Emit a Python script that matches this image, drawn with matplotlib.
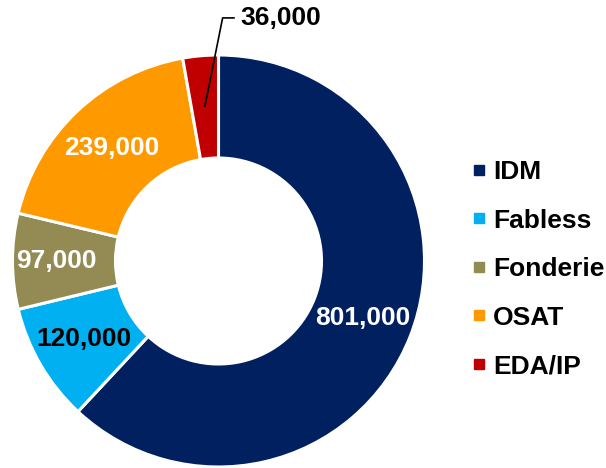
import numpy as np
import matplotlib.pyplot as plt
from matplotlib.lines import Line2D

categories = ["IDM", "Fabless", "Fonderie", "OSAT", "EDA/IP"]
values = [801000, 120000, 97000, 239000, 36000]
colors = ["#002060", "#00B0F0", "#948A54", "#FF9900", "#C00000"]
label_colors = ["white", "black", "white", "white", "black"]

plt.rcParams["font.family"] = ["Liberation Sans", "DejaVu Sans"]

fig = plt.figure(figsize=(6.06, 4.68), dpi=100)
ax = fig.add_axes([0, 0, 1, 1])

cx, cy, R = 218.5, 207, 206
ring = 0.5
wedges, _ = ax.pie(values, colors=colors, startangle=90, counterclock=False,
                   center=(cx, cy), radius=R, frame=True,
                   wedgeprops=dict(width=R * ring, edgecolor="white", linewidth=2.2))
ax.set_xlim(0, 606)
ax.set_ylim(0, 468)
ax.set_aspect("equal")
ax.axis("off")

for i, w in enumerate(wedges):
    mid = np.deg2rad((w.theta1 + w.theta2) / 2)
    text = f"{values[i]:,}"
    r_lab = R * 0.755
    x = cx + r_lab * np.cos(mid)
    y = cy + r_lab * np.sin(mid)
    if categories[i] == "EDA/IP":
        # small slice: label outside with leader line
        ex, ey = cx + 0.02 * R, cy + 1.18 * R
        ax.plot([x, ex, ex + 0.055 * R], [y, ey, ey], color="black", lw=1.2)
        ax.text(ex + 0.085 * R, ey, text, ha="left", va="center",
                fontsize=19, fontweight="bold", color=label_colors[i])
    else:
        if categories[i] == "Fonderie":
            x = cx + R * 0.785 * np.cos(mid)
        ax.text(x, y, text, ha="center", va="center",
                fontsize=19, fontweight="bold", color=label_colors[i])

handles = [Line2D([0], [0], marker="s", linestyle="none", markersize=7,
                  markerfacecolor=c, markeredgecolor=c) for c in colors]
fig.legend(handles, categories, loc="center left", bbox_to_anchor=(0.777, 0.425),
           frameon=False, prop=dict(size=19, weight="bold"),
           handlelength=0.6, handletextpad=0.25, labelspacing=0.93,
           borderpad=0, borderaxespad=0)

fig.savefig("out.png", dpi=100)
